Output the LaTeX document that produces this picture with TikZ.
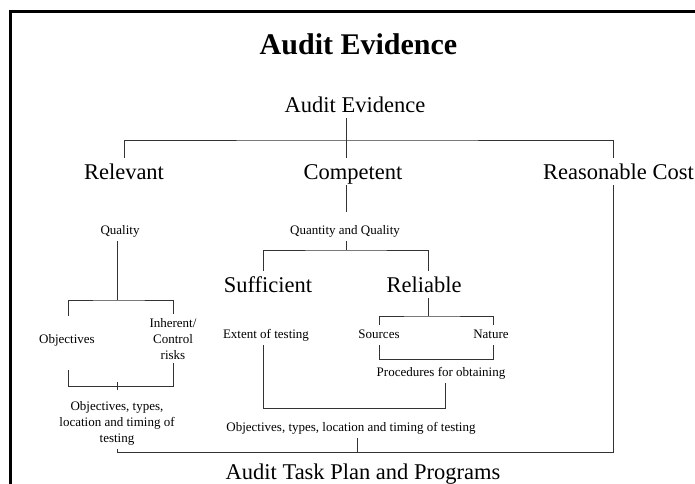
\documentclass[tikz,border=0pt]{standalone}
\usepackage{fontspec}
\setmainfont{Liberation Serif}
\usepackage{tikz}
\usetikzlibrary{positioning}

\begin{document}
\begin{tikzpicture}[
    x=1pt, y=-1pt,
    link/.style={draw=black!80, line width=1pt},
    frame/.style={draw=black, line width=2.7pt},
    heading/.style={font=\fontsize{30}{36}\selectfont\bfseries, anchor=base, inner sep=0pt},
    big/.style={font=\fontsize{22.5}{27}\selectfont, anchor=base, inner sep=6pt, text height=15pt, text depth=0pt},
    small/.style={font=\fontsize{13}{15.6}\selectfont, anchor=base, inner sep=4pt, text height=9pt, text depth=3pt},
    multi/.style={font=\fontsize{13}{16}\selectfont, anchor=base, align=center, inner sep=4pt},
]
    \useasboundingbox (0,0) rectangle (695,483);
    \draw[frame] (10.5,500) -- (10.5,11.2) -- (710,11.2);

    % Heading
    \node[heading] (head) at (358.5,54) {Audit Evidence};

    % Top level
    \node[big] (evid) at (355,112) {Audit Evidence};
    \node[big] (rel) at (124,179) {Relevant};
    \node[big] (comp) at (353,179) {Competent};
    \node[big] (cost) at (618.5,179) {Reasonable Cost};

    % Relevant branch (multi-line nodes sit on their last baseline)
    \node[small] (qual) at (120,234) {Quality};
    \node[small] (obj) at (67,343) {Objectives};
    \node[multi] (inh) at (173,359) {Inherent/\\Control\\risks};
    \node[multi] (objl) at (117,442) {Objectives, types,\\location and timing of\\testing};

    % Competent branch
    \node[small] (qq) at (345,234) {Quantity and Quality};
    \node[big] (suff) at (268,292) {Sufficient};
    \node[big] (reli) at (424,292) {Reliable};
    \node[small] (ext) at (266,338) {Extent of testing};
    \node[small] (src) at (379,338) {Sources};
    \node[small] (nat) at (491,338) {Nature};
    \node[small] (proc) at (441,376) {Procedures for obtaining};
    \node[small] (objc) at (351,431) {Objectives, types, location and timing of testing};

    % Result
    \node[big] (plan) at (363,479) {Audit Task Plan and Programs};

    % Junctions
    \coordinate (topbar) at (346,140);
    \coordinate (qqbar) at (346,250);
    \coordinate (relbar) at (428,316);
    \coordinate (procbar) at (436,359);
    \coordinate (extbar) at (354,408);
    \coordinate (tick) at (357,452);
    \coordinate (qualbar) at (117,300);
    \coordinate (objtop) at (68,316);
    \coordinate (objbot) at (68,370);
    \coordinate (objbar) at (117,386);

    % Connections
    \draw[link] (evid.south -| topbar) -- (topbar);
    \draw[link] (rel.north) |- (topbar) -| ([xshift=-5.5pt]cost.north);
    \draw[link] (topbar) -- (comp.north -| topbar);

    \draw[link, shorten >=9pt] (comp.south -| topbar) -- (qq.north -| topbar);
    \draw[link] (qq.south -| qqbar) -- (qqbar);
    \draw[link] ([xshift=-5pt]suff.north) |- (qqbar) -| ([xshift=4pt]reli.north);

    \draw[link] ([xshift=4pt]reli.south) -- (relbar);
    \draw[link] (src.north) |- (relbar) -| ([xshift=2pt]nat.north);
    \draw[link] (src.south) |- (procbar) -| ([xshift=2pt]nat.south);
    \draw[link] ([xshift=-3pt]ext.south) |- (extbar) -| ([xshift=4pt]proc.south);
    \draw[link] (objc.south -| tick) -- (tick);

    \draw[link] (qual.south -| qualbar) -- (qualbar);
    \draw[link] (objtop) |- (qualbar) -| (inh.north);
    \draw[link] (objbot) |- (objbar) -| (inh.south);
    \draw[link] ([yshift=4pt]objbar) -- ([yshift=-4pt]objbar);

    \draw[link] (objl.south) |- (tick) -| ([xshift=-5.5pt]cost.south);
\end{tikzpicture}
\end{document}
